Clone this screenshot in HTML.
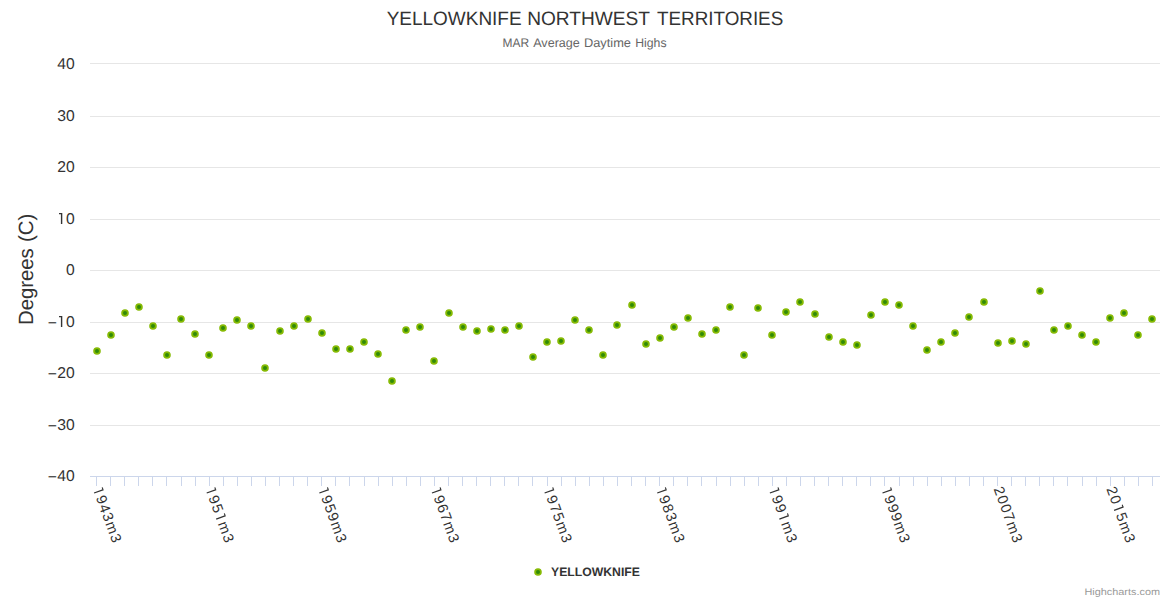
<!DOCTYPE html>
<html><head><meta charset="utf-8"><title>Yellowknife</title>
<style>
html,body{margin:0;padding:0;background:#fff;}
body{width:1170px;height:600px;overflow:hidden;}
svg{display:block;font-family:"Liberation Sans",sans-serif;text-rendering:geometricPrecision;}
</style></head><body>
<svg width="1170" height="600" viewBox="0 0 1170 600">
<rect x="0" y="0" width="1170" height="600" fill="#ffffff"/>

<g stroke="#e6e6e6" stroke-width="1" shape-rendering="crispEdges">
<line x1="90" y1="63.5" x2="1160" y2="63.5"/>
<line x1="90" y1="116.5" x2="1160" y2="116.5"/>
<line x1="90" y1="167.5" x2="1160" y2="167.5"/>
<line x1="90" y1="219.5" x2="1160" y2="219.5"/>
<line x1="90" y1="270.5" x2="1160" y2="270.5"/>
<line x1="90" y1="322.5" x2="1160" y2="322.5"/>
<line x1="90" y1="373.5" x2="1160" y2="373.5"/>
<line x1="90" y1="425.5" x2="1160" y2="425.5"/>
</g>
<g stroke="#ccd6eb" stroke-width="1" shape-rendering="crispEdges">
<line x1="90" y1="476.5" x2="1160" y2="476.5"/>
<line x1="96.5" y1="476" x2="96.5" y2="486"/>
<line x1="110.5" y1="476" x2="110.5" y2="486"/>
<line x1="124.5" y1="476" x2="124.5" y2="486"/>
<line x1="138.5" y1="476" x2="138.5" y2="486"/>
<line x1="152.5" y1="476" x2="152.5" y2="486"/>
<line x1="166.5" y1="476" x2="166.5" y2="486"/>
<line x1="181.5" y1="476" x2="181.5" y2="486"/>
<line x1="195.5" y1="476" x2="195.5" y2="486"/>
<line x1="209.5" y1="476" x2="209.5" y2="486"/>
<line x1="223.5" y1="476" x2="223.5" y2="486"/>
<line x1="237.5" y1="476" x2="237.5" y2="486"/>
<line x1="251.5" y1="476" x2="251.5" y2="486"/>
<line x1="265.5" y1="476" x2="265.5" y2="486"/>
<line x1="279.5" y1="476" x2="279.5" y2="486"/>
<line x1="293.5" y1="476" x2="293.5" y2="486"/>
<line x1="307.5" y1="476" x2="307.5" y2="486"/>
<line x1="321.5" y1="476" x2="321.5" y2="486"/>
<line x1="335.5" y1="476" x2="335.5" y2="486"/>
<line x1="349.5" y1="476" x2="349.5" y2="486"/>
<line x1="364.5" y1="476" x2="364.5" y2="486"/>
<line x1="378.5" y1="476" x2="378.5" y2="486"/>
<line x1="392.5" y1="476" x2="392.5" y2="486"/>
<line x1="406.5" y1="476" x2="406.5" y2="486"/>
<line x1="420.5" y1="476" x2="420.5" y2="486"/>
<line x1="434.5" y1="476" x2="434.5" y2="486"/>
<line x1="448.5" y1="476" x2="448.5" y2="486"/>
<line x1="462.5" y1="476" x2="462.5" y2="486"/>
<line x1="476.5" y1="476" x2="476.5" y2="486"/>
<line x1="490.5" y1="476" x2="490.5" y2="486"/>
<line x1="504.5" y1="476" x2="504.5" y2="486"/>
<line x1="518.5" y1="476" x2="518.5" y2="486"/>
<line x1="532.5" y1="476" x2="532.5" y2="486"/>
<line x1="547.5" y1="476" x2="547.5" y2="486"/>
<line x1="561.5" y1="476" x2="561.5" y2="486"/>
<line x1="575.5" y1="476" x2="575.5" y2="486"/>
<line x1="589.5" y1="476" x2="589.5" y2="486"/>
<line x1="603.5" y1="476" x2="603.5" y2="486"/>
<line x1="617.5" y1="476" x2="617.5" y2="486"/>
<line x1="631.5" y1="476" x2="631.5" y2="486"/>
<line x1="645.5" y1="476" x2="645.5" y2="486"/>
<line x1="659.5" y1="476" x2="659.5" y2="486"/>
<line x1="673.5" y1="476" x2="673.5" y2="486"/>
<line x1="687.5" y1="476" x2="687.5" y2="486"/>
<line x1="701.5" y1="476" x2="701.5" y2="486"/>
<line x1="716.5" y1="476" x2="716.5" y2="486"/>
<line x1="730.5" y1="476" x2="730.5" y2="486"/>
<line x1="744.5" y1="476" x2="744.5" y2="486"/>
<line x1="758.5" y1="476" x2="758.5" y2="486"/>
<line x1="772.5" y1="476" x2="772.5" y2="486"/>
<line x1="786.5" y1="476" x2="786.5" y2="486"/>
<line x1="800.5" y1="476" x2="800.5" y2="486"/>
<line x1="814.5" y1="476" x2="814.5" y2="486"/>
<line x1="828.5" y1="476" x2="828.5" y2="486"/>
<line x1="842.5" y1="476" x2="842.5" y2="486"/>
<line x1="856.5" y1="476" x2="856.5" y2="486"/>
<line x1="870.5" y1="476" x2="870.5" y2="486"/>
<line x1="884.5" y1="476" x2="884.5" y2="486"/>
<line x1="899.5" y1="476" x2="899.5" y2="486"/>
<line x1="913.5" y1="476" x2="913.5" y2="486"/>
<line x1="927.5" y1="476" x2="927.5" y2="486"/>
<line x1="941.5" y1="476" x2="941.5" y2="486"/>
<line x1="955.5" y1="476" x2="955.5" y2="486"/>
<line x1="969.5" y1="476" x2="969.5" y2="486"/>
<line x1="983.5" y1="476" x2="983.5" y2="486"/>
<line x1="997.5" y1="476" x2="997.5" y2="486"/>
<line x1="1011.5" y1="476" x2="1011.5" y2="486"/>
<line x1="1025.5" y1="476" x2="1025.5" y2="486"/>
<line x1="1039.5" y1="476" x2="1039.5" y2="486"/>
<line x1="1053.5" y1="476" x2="1053.5" y2="486"/>
<line x1="1067.5" y1="476" x2="1067.5" y2="486"/>
<line x1="1082.5" y1="476" x2="1082.5" y2="486"/>
<line x1="1096.5" y1="476" x2="1096.5" y2="486"/>
<line x1="1110.5" y1="476" x2="1110.5" y2="486"/>
<line x1="1124.5" y1="476" x2="1124.5" y2="486"/>
<line x1="1138.5" y1="476" x2="1138.5" y2="486"/>
<line x1="1152.5" y1="476" x2="1152.5" y2="486"/>
</g>
<text x="386.68" y="24.5" font-size="19.4" fill="#333333" textLength="134.93" lengthAdjust="spacingAndGlyphs">YELLOWKNIFE</text>
<text x="527.14" y="24.5" font-size="19.4" fill="#333333" textLength="122.80" lengthAdjust="spacingAndGlyphs">NORTHWEST</text>
<text x="656.98" y="24.5" font-size="19.4" fill="#333333" textLength="126.28" lengthAdjust="spacingAndGlyphs">TERRITORIES</text>
<text x="502.52" y="46.7" font-size="12.5" fill="#666666" textLength="26.53" lengthAdjust="spacingAndGlyphs">MAR</text>
<text x="533.18" y="46.7" font-size="12.5" fill="#666666" textLength="46.68" lengthAdjust="spacingAndGlyphs">Average</text>
<text x="583.95" y="46.7" font-size="12.5" fill="#666666" textLength="47.02" lengthAdjust="spacingAndGlyphs">Daytime</text>
<text x="635.19" y="46.7" font-size="12.5" fill="#666666" textLength="31.35" lengthAdjust="spacingAndGlyphs">Highs</text>
<g font-size="15.7" fill="#333333">
<text x="57.2" y="69">4</text>
<text x="66.1" y="69">0</text>
<text x="57.2" y="121">3</text>
<text x="66.1" y="121">0</text>
<text x="57.2" y="172">2</text>
<text x="66.1" y="172">0</text>
<path d="M60.9 213h1.4v11h-1.4zM59 213h2v1.15h-2z"/>
<text x="66.1" y="224">0</text>
<text x="66.1" y="275">0</text>
<text x="47.8" y="327.9">−</text>
<path d="M60.9 316h1.4v11h-1.4zM59 316h2v1.15h-2z"/>
<text x="66.1" y="327">0</text>
<text x="47.8" y="378.9">−</text>
<text x="57.2" y="378">2</text>
<text x="66.1" y="378">0</text>
<text x="47.8" y="430.9">−</text>
<text x="57.2" y="430">3</text>
<text x="66.1" y="430">0</text>
<text x="47.8" y="481.9">−</text>
<text x="57.2" y="481">4</text>
<text x="66.1" y="481">0</text>
</g>
<text transform="translate(33.0,0) rotate(-90)" x="-324.96" y="0" font-size="20.6" fill="#333333" textLength="76.70" lengthAdjust="spacingAndGlyphs">Degrees</text>
<text transform="translate(33.0,0) rotate(-90)" x="-242.07" y="0" font-size="20.6" fill="#333333" textLength="28.33" lengthAdjust="spacingAndGlyphs">(C)</text>
<g font-size="14.6" fill="#333333">
<g transform="translate(92.54,488.75) rotate(70)"><text x="9.25 18.50 27.74 36.99 50.28" y="0">943m3</text><path d="M3.86 -10.1h1.3v10.1h-1.3zM1.96 -10.1h2v1.1h-2z"/></g>
<g transform="translate(205.17,488.75) rotate(70)"><text x="9.25 18.50 36.99 50.28" y="0">95m3</text><path d="M3.86 -10.1h1.3v10.1h-1.3zM1.96 -10.1h2v1.1h-2z"/><path d="M31.60 -10.1h1.3v10.1h-1.3zM29.70 -10.1h2v1.1h-2z"/></g>
<g transform="translate(317.80,488.75) rotate(70)"><text x="9.25 18.50 27.74 36.99 50.28" y="0">959m3</text><path d="M3.86 -10.1h1.3v10.1h-1.3zM1.96 -10.1h2v1.1h-2z"/></g>
<g transform="translate(430.43,488.75) rotate(70)"><text x="9.25 18.50 27.74 36.99 50.28" y="0">967m3</text><path d="M3.86 -10.1h1.3v10.1h-1.3zM1.96 -10.1h2v1.1h-2z"/></g>
<g transform="translate(543.07,488.75) rotate(70)"><text x="9.25 18.50 27.74 36.99 50.28" y="0">975m3</text><path d="M3.86 -10.1h1.3v10.1h-1.3zM1.96 -10.1h2v1.1h-2z"/></g>
<g transform="translate(655.70,488.75) rotate(70)"><text x="9.25 18.50 27.74 36.99 50.28" y="0">983m3</text><path d="M3.86 -10.1h1.3v10.1h-1.3zM1.96 -10.1h2v1.1h-2z"/></g>
<g transform="translate(768.33,488.75) rotate(70)"><text x="9.25 18.50 36.99 50.28" y="0">99m3</text><path d="M3.86 -10.1h1.3v10.1h-1.3zM1.96 -10.1h2v1.1h-2z"/><path d="M31.60 -10.1h1.3v10.1h-1.3zM29.70 -10.1h2v1.1h-2z"/></g>
<g transform="translate(880.96,488.75) rotate(70)"><text x="9.25 18.50 27.74 36.99 50.28" y="0">999m3</text><path d="M3.86 -10.1h1.3v10.1h-1.3zM1.96 -10.1h2v1.1h-2z"/></g>
<g transform="translate(993.59,488.75) rotate(70)"><text x="0.00 9.25 18.50 27.74 36.99 50.28" y="0">2007m3</text></g>
<g transform="translate(1106.22,488.75) rotate(70)"><text x="0.00 9.25 27.74 36.99 50.28" y="0">205m3</text><path d="M22.35 -10.1h1.3v10.1h-1.3zM20.45 -10.1h2v1.1h-2z"/></g>
</g>
<g fill="#308a08" stroke="#86ba04" stroke-width="1.8">
<circle cx="97" cy="351" r="2.9"/>
<circle cx="111" cy="335" r="2.9"/>
<circle cx="125" cy="313" r="2.9"/>
<circle cx="139" cy="307" r="2.9"/>
<circle cx="153" cy="326" r="2.9"/>
<circle cx="167" cy="355" r="2.9"/>
<circle cx="181" cy="319" r="2.9"/>
<circle cx="195" cy="334" r="2.9"/>
<circle cx="209" cy="355" r="2.9"/>
<circle cx="223" cy="328" r="2.9"/>
<circle cx="237" cy="320" r="2.9"/>
<circle cx="251" cy="326" r="2.9"/>
<circle cx="265" cy="368" r="2.9"/>
<circle cx="280" cy="331" r="2.9"/>
<circle cx="294" cy="326" r="2.9"/>
<circle cx="308" cy="319" r="2.9"/>
<circle cx="322" cy="333" r="2.9"/>
<circle cx="336" cy="349" r="2.9"/>
<circle cx="350" cy="349" r="2.9"/>
<circle cx="364" cy="342" r="2.9"/>
<circle cx="378" cy="354" r="2.9"/>
<circle cx="392" cy="381" r="2.9"/>
<circle cx="406" cy="330" r="2.9"/>
<circle cx="420" cy="327" r="2.9"/>
<circle cx="434" cy="361" r="2.9"/>
<circle cx="449" cy="313" r="2.9"/>
<circle cx="463" cy="327" r="2.9"/>
<circle cx="477" cy="331" r="2.9"/>
<circle cx="491" cy="329" r="2.9"/>
<circle cx="505" cy="330" r="2.9"/>
<circle cx="519" cy="326" r="2.9"/>
<circle cx="533" cy="357" r="2.9"/>
<circle cx="547" cy="342" r="2.9"/>
<circle cx="561" cy="341" r="2.9"/>
<circle cx="575" cy="320" r="2.9"/>
<circle cx="589" cy="330" r="2.9"/>
<circle cx="603" cy="355" r="2.9"/>
<circle cx="617" cy="325" r="2.9"/>
<circle cx="632" cy="305" r="2.9"/>
<circle cx="646" cy="344" r="2.9"/>
<circle cx="660" cy="338" r="2.9"/>
<circle cx="674" cy="327" r="2.9"/>
<circle cx="688" cy="318" r="2.9"/>
<circle cx="702" cy="334" r="2.9"/>
<circle cx="716" cy="330" r="2.9"/>
<circle cx="730" cy="307" r="2.9"/>
<circle cx="744" cy="355" r="2.9"/>
<circle cx="758" cy="308" r="2.9"/>
<circle cx="772" cy="335" r="2.9"/>
<circle cx="786" cy="312" r="2.9"/>
<circle cx="800" cy="302" r="2.9"/>
<circle cx="815" cy="314" r="2.9"/>
<circle cx="829" cy="337" r="2.9"/>
<circle cx="843" cy="342" r="2.9"/>
<circle cx="857" cy="345" r="2.9"/>
<circle cx="871" cy="315" r="2.9"/>
<circle cx="885" cy="302" r="2.9"/>
<circle cx="899" cy="305" r="2.9"/>
<circle cx="913" cy="326" r="2.9"/>
<circle cx="927" cy="350" r="2.9"/>
<circle cx="941" cy="342" r="2.9"/>
<circle cx="955" cy="333" r="2.9"/>
<circle cx="969" cy="317" r="2.9"/>
<circle cx="984" cy="302" r="2.9"/>
<circle cx="998" cy="343" r="2.9"/>
<circle cx="1012" cy="341" r="2.9"/>
<circle cx="1026" cy="344" r="2.9"/>
<circle cx="1040" cy="291" r="2.9"/>
<circle cx="1054" cy="330" r="2.9"/>
<circle cx="1068" cy="326" r="2.9"/>
<circle cx="1082" cy="335" r="2.9"/>
<circle cx="1096" cy="342" r="2.9"/>
<circle cx="1110" cy="318" r="2.9"/>
<circle cx="1124" cy="313" r="2.9"/>
<circle cx="1138" cy="335" r="2.9"/>
<circle cx="1152" cy="319" r="2.9"/>
</g>
<circle cx="538" cy="572" r="2.9" fill="#308a08" stroke="#86ba04" stroke-width="1.8"/>
<text x="551.09" y="575.6" font-size="12.2" fill="#333333" textLength="88.79" lengthAdjust="spacingAndGlyphs" font-weight="bold">YELLOWKNIFE</text>
<text x="1084.51" y="594.5" font-size="9.6" fill="#999999" textLength="75.51" lengthAdjust="spacingAndGlyphs">Highcharts.com</text>
</svg></body></html>
